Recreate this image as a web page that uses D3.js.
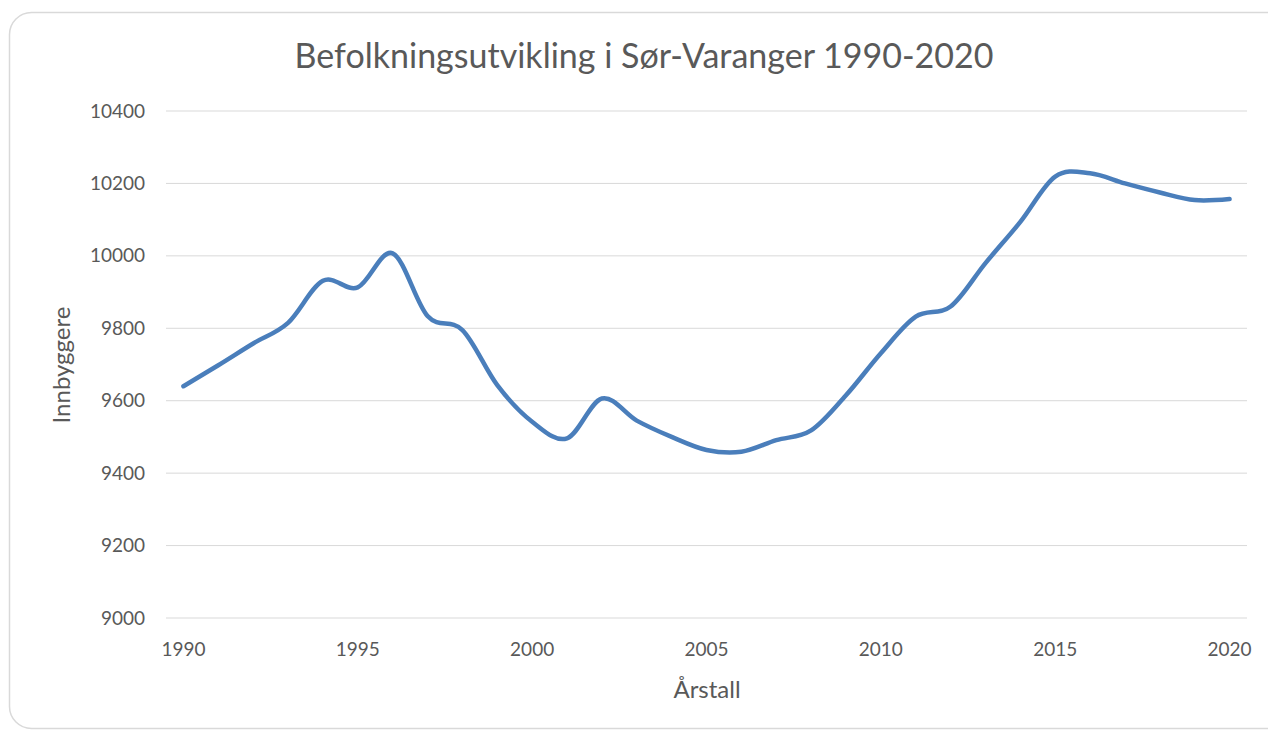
<!DOCTYPE html>
<html>
<head>
<meta charset="utf-8">
<script src="https://cdn.jsdelivr.net/npm/d3@7"></script>
<style>
  body { margin: 0; background: #fff; }
  text { font-family: Lato, "Open Sans", sans-serif; fill: #595959; }
</style>
</head>
<body>
<div id="chart"></div>
<script>
const years = d3.range(1990, 2021);
const population = [
  9640, 9698, 9758, 9815, 9931, 9913, 10007, 9834, 9795, 9643,
  9542, 9496, 9606, 9545, 9500, 9464, 9459, 9491, 9518, 9615,
  9731, 9832, 9860, 9980, 10094, 10219, 10228, 10200, 10175, 10154,
  10157,
];
const yTicks = [9000, 9200, 9400, 9600, 9800, 10000, 10200, 10400];
const xTickYears = [1990, 1995, 2000, 2005, 2010, 2015, 2020];

const W = 1268;
const H = 731;
const margin = { top: 111, right: 21, bottom: 113, left: 166 };
const width = W - margin.left - margin.right;
const height = H - margin.top - margin.bottom;

const svg = d3
  .select('#chart')
  .append('svg')
  .attr('width', W)
  .attr('height', H);

// chart frame
svg
  .append('rect')
  .attr('x', 9.5)
  .attr('y', 12.5)
  .attr('width', 1290)
  .attr('height', 716)
  .attr('rx', 22)
  .attr('fill', '#fff')
  .attr('stroke', '#d9d9d9')
  .attr('stroke-width', 1.5);

const g = svg
  .append('g')
  .attr('transform', `translate(${margin.left},${margin.top})`);

const x = d3.scaleBand().domain(years).range([0, width]);
const y = d3.scaleLinear().domain([9000, 10400]).range([height, 0]);

// gridlines
g.selectAll('.grid')
  .data(yTicks)
  .enter()
  .append('line')
  .attr('x1', 0)
  .attr('x2', width)
  .attr('y1', (d) => y(d))
  .attr('y2', (d) => y(d))
  .attr('stroke', '#d9d9d9')
  .attr('stroke-width', 1);

const yAxis = g
  .append('g')
  .call(
    d3
      .axisLeft(y)
      .tickValues(yTicks)
      .tickFormat(d3.format('d'))
      .tickSize(0)
      .tickPadding(21)
  );
yAxis.select('.domain').remove();
yAxis.selectAll('text').style('font-size', '19px').attr('fill', '#595959');

const xAxis = g
  .append('g')
  .attr('transform', `translate(0,${height})`)
  .call(d3.axisBottom(x).tickValues(xTickYears).tickSize(0).tickPadding(25));
xAxis.select('.domain').remove();
xAxis.selectAll('text').style('font-size', '19px').attr('fill', '#595959');

const line = d3
  .line()
  .x((d, i) => x(years[i]) + x.bandwidth() / 2)
  .y((d) => y(d))
  .curve(d3.curveCardinal.tension(0));

g.append('path')
  .datum(population)
  .attr('d', line)
  .attr('fill', 'none')
  .attr('stroke', '#4a7ebb')
  .attr('stroke-width', 4.5)
  .attr('stroke-linecap', 'round');

svg
  .append('text')
  .attr('x', 644)
  .attr('y', 68)
  .attr('text-anchor', 'middle')
  .style('font-size', '34px')
  .text('Befolkningsutvikling i Sør-Varanger 1990-2020');

svg
  .append('text')
  .attr('x', 707)
  .attr('y', 698)
  .attr('text-anchor', 'middle')
  .style('font-size', '24px')
  .text('Årstall');

svg
  .append('text')
  .attr('transform', 'translate(70,365) rotate(-90)')
  .attr('text-anchor', 'middle')
  .style('font-size', '24px')
  .text('Innbyggere');
</script>
</body>
</html>
